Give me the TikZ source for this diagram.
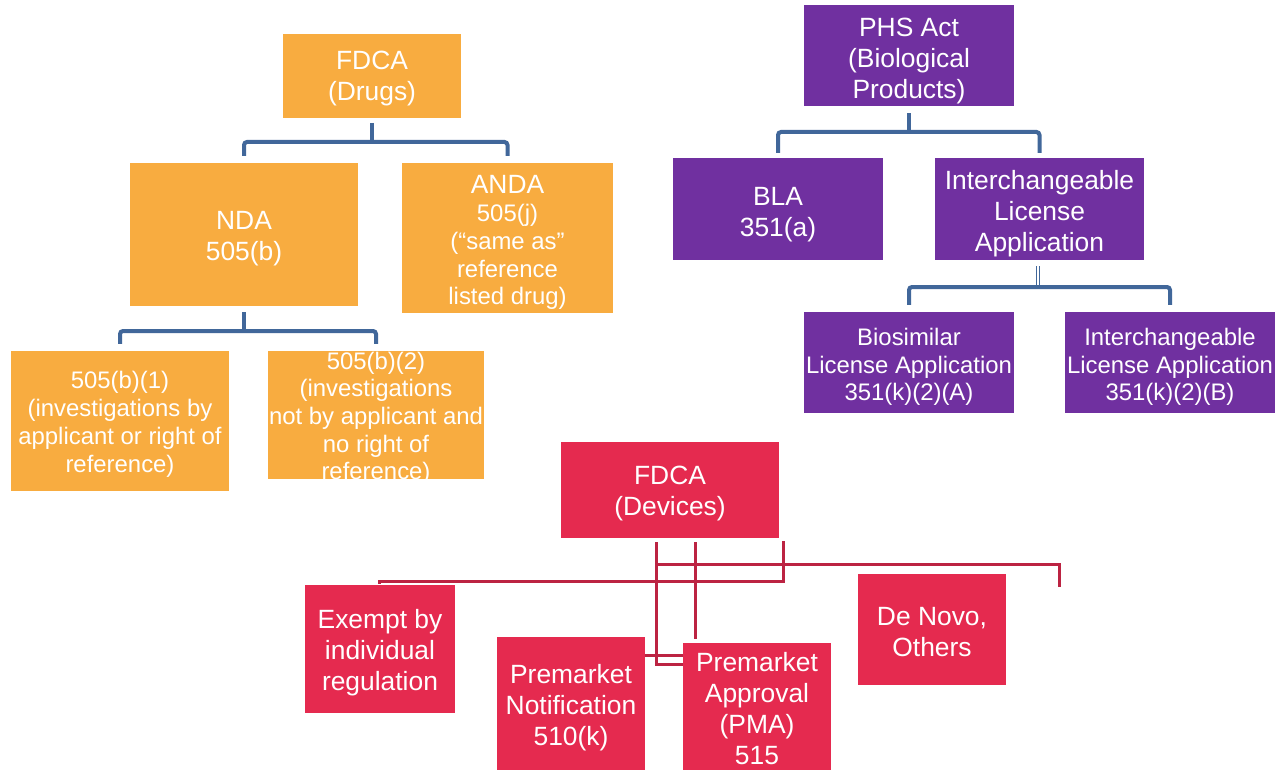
\documentclass[tikz,border=0pt]{standalone}
\usepackage{fontspec}
\setmainfont{Liberation Sans}
\usetikzlibrary{calc}
\definecolor{orng}{HTML}{F8AC40}
\definecolor{purp}{HTML}{7030A0}
\definecolor{redb}{HTML}{E52A4F}
\definecolor{bline}{HTML}{41679A}
\definecolor{rline}{HTML}{BC2342}
\newcommand\tstrut[1]{\rule{0pt}{#1em}}
\begin{document}
\begin{tikzpicture}[x=1pt,y=-1pt,
  box/.style={inner sep=0pt, align=center, text=white, font=\fontsize{26.4}{31}\selectfont},
  smalltext/.style={font=\fontsize{23.9}{27.7}\selectfont},
  ob/.style={box, fill=orng},
  pb/.style={box, fill=purp},
  rb/.style={box, fill=redb},
  bconn/.style={draw=bline, line width=4pt, rounded corners=3pt},
  rconn/.style={draw=rline, line width=3pt}]
\useasboundingbox (0,0) rectangle (1277,770);
\fill[white] (0,0) rectangle (1277,770);
\clip (0,0) rectangle (1277,770);

% ---- Drugs (orange)
\node[ob, minimum width=178pt, minimum height=84pt] (fdcad) at (372,76.5) {\tstrut{0.85}FDCA\\(Drugs)};
\node[ob, minimum width=228pt, minimum height=143pt] (nda) at (244,234.5) {\tstrut{1}NDA\\505(b)};
\node[ob, smalltext, minimum width=211pt, minimum height=150pt] (anda) at (507.5,238) {{\fontsize{26.4}{29}\selectfont\tstrut{1.05}ANDA}\\505(j)\\(“same as”\\reference\\listed drug)};
\node[ob, smalltext, minimum width=218pt, minimum height=140pt] (b1) at (120,421) {\tstrut{1}505(b)(1)\\(investigations by\\applicant or right of\\reference)};
\node[ob, smalltext, inner ysep=-10pt, minimum width=216pt, minimum height=128pt] (b2) at (376,415) {\tstrut{1}505(b)(2)\\(investigations\\not by applicant and\\no right of\\reference)};

% ---- Biologics (purple)
\node[pb, minimum width=210pt, minimum height=101pt] (phs) at (909,55.5) {\tstrut{1.1}PHS Act\\(Biological\\Products)};
\node[pb, minimum width=210pt, minimum height=102pt] (bla) at (778,209) {\tstrut{1.15}BLA\\351(a)};
\node[pb, minimum width=209pt, minimum height=102pt] (ila) at (1039.5,209) {\tstrut{1.1}Interchangeable\\License\\Application};
\node[pb, smalltext, minimum width=210pt, minimum height=101pt] (bio) at (909,362.5) {\tstrut{1.1}Biosimilar\\License Application\\351(k)(2)(A)};
\node[pb, smalltext, minimum width=210pt, minimum height=101pt] (ilb) at (1170,362.5) {\tstrut{1.1}Interchangeable\\License Application\\351(k)(2)(B)};

% ---- Devices (red)
\node[rb, minimum width=218pt, minimum height=96pt] (fdcadev) at (670,490) {\tstrut{0.95}FDCA\\(Devices)};
\node[rb, minimum width=150pt, minimum height=128pt] (exempt) at (380,649) {\tstrut{1}Exempt by\\individual\\regulation};
\node[rb, minimum width=148pt, minimum height=134pt] (pmn) at (571,704) {\tstrut{1}Premarket\\Notification\\510(k)};
\node[rb, minimum width=148pt, minimum height=128pt] (pma) at (757,707) {\tstrut{0.85}Premarket\\Approval\\(PMA)\\515};
\node[rb, minimum width=148pt, minimum height=111pt] (denovo) at (932,629.5) {\tstrut{0.85}De Novo,\\Others};

% ---- blue connectors
\draw[bconn] (372,123) -- (372,142);
\draw[bconn] ([yshift=7pt]nda.north) -- (nda.north |- 0,142) -- (anda.north |- 0,142) -- ([yshift=7pt]anda.north);

\draw[bconn] ([yshift=-6pt]nda.south) -- (nda.south |- 0,331);
\draw[bconn] ([yshift=7pt]b1.north) -- (b1.north |- 0,331) -- (b2.north |- 0,331) -- ([yshift=7pt]b2.north);

\draw[bconn] ([yshift=-7pt]phs.south) -- (phs.south |- 0,132);
\draw[bconn] ([yshift=5pt]bla.north) -- (bla.north |- 0,132) -- (ila.north |- 0,132) -- ([yshift=5pt]ila.north);

\draw[bconn] ([yshift=7pt]bio.north) -- (bio.north |- 0,287) -- (ilb.north |- 0,287) -- ([yshift=7pt]ilb.north);
\draw[bconn, double=white, double distance=1.2pt, line width=1.4pt, rounded corners=0pt] ([yshift=-6pt,xshift=-1.5pt]ila.south) -- ([xshift=-1.5pt]ila.south |- 0,285);

% ---- red connectors
\coordinate (ra) at (656,542);
\coordinate (rb) at (695,542);
\coordinate (rc) at (783,541);
\coordinate (rd) at (1059,587);
\draw[rconn] (ra) -- (ra |- 0,664) -- (pma.west |- 0,664);
\draw[rconn] (pmn.east |- 0,655) -- (pma.west |- 0,655);
\draw[rconn] (rb) -- (rb |- 0,639);
\draw[rconn] (rc) -- (rc |- 0,581) -- (379,581) -- (379,584);
\draw[rconn] (ra |- 0,564) -- (rd |- 0,564) -- (rd);
\end{tikzpicture}
\end{document}
